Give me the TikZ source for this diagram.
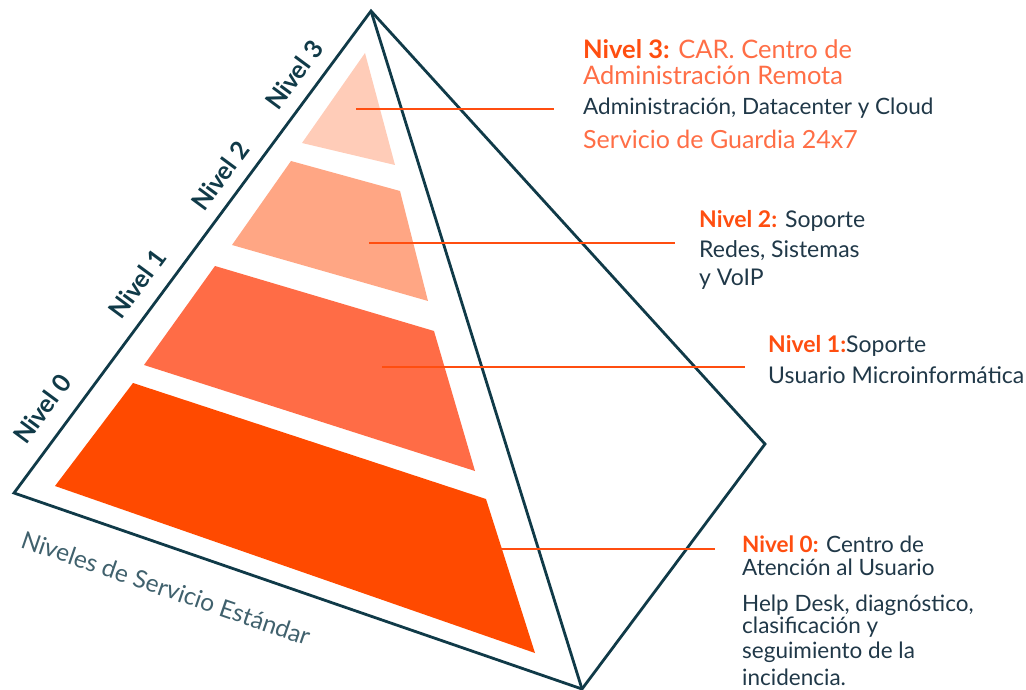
\documentclass[tikz,border=0pt]{standalone}
\usepackage{fontspec}
\setmainfont{Lato}
\usepackage{tikz}
\usetikzlibrary{positioning}
\usetikzlibrary{calc}
\definecolor{edge}{RGB}{16,58,72}
\definecolor{ink}{RGB}{32,56,72}
\definecolor{accent}{RGB}{255,78,16}
\definecolor{accent2}{RGB}{255,110,70}
\definecolor{lvl0}{RGB}{255,74,0}
\definecolor{lvl1}{RGB}{255,108,70}
\definecolor{lvl2}{RGB}{255,166,132}
\definecolor{lvl3}{RGB}{255,204,184}
\tikzstyle{side} = [draw=edge, line width=2.8pt, line join=miter]
\tikzstyle{leader} = [draw=accent, line width=2.6pt]
\tikzstyle{txt} = [anchor=base west, inner sep=0pt, text=ink, font=\fontsize{23}{26}\selectfont]
\tikzstyle{tag} = [inner sep=0pt, text=edge, rotate=53.5, font=\fontsize{25}{28}\selectfont\bfseries]

\begin{document}
\begin{tikzpicture}[x=1pt, y=-1pt]
	\useasboundingbox (0,0) rectangle (1026,690);

	% bands
	\fill[lvl0] (133,383) -- (486,499) -- (535,653) -- (55,486) -- cycle;
	\fill[lvl1] (215,266) -- (434,331) -- (475,471) -- (144,365) -- cycle;
	\fill[lvl2] (291,161) -- (400,191) -- (428,301) -- (232,245) -- cycle;
	\fill[lvl3] (365,53) -- (395,165) -- (302,143) -- cycle;

	% pyramid
	\coordinate (Apex) at (371,11);
	\coordinate (Left) at (14,493);
	\coordinate (Front) at (582,689);
	\coordinate (Right) at (765,444);
	\draw[side] (Apex) -- (Left) -- (Front) -- (Right) -- cycle;
	\draw[side] (Apex) -- (Front);

	% left tags
	\node[tag](Tag-0) at (42,409){Nivel 0};
	\node[tag](Tag-1) at (137,284){Nivel 1};
	\node[tag](Tag-2) at (220,176){Nivel 2};
	\node[tag](Tag-3) at (294,75){Nivel 3};
	\node[inner sep=0pt, text=edge!80, rotate=-19, font=\fontsize{24.5}{26}\selectfont](Title) at (166,588){Niveles de Servicio Estándar};

	% level 3
	\node[txt, font=\fontsize{25.5}{28}\selectfont, text=accent2](N3-a) at (583,59){\textbf{\color{accent}Nivel 3:} CAR. Centro de};
	\node[txt, font=\fontsize{25.5}{28}\selectfont, text=accent2](N3-b) at (583,85){Administración Remota};
	\node[txt, font=\fontsize{22.5}{26}\selectfont](N3-c) at (583,115){Administración, Datacenter y Cloud};
	\node[txt, font=\fontsize{25}{28}\selectfont, text=accent2](N3-d) at (583,149){Servicio de Guardia 24x7};

	% level 2
	\node[txt](N2-a) at (699,227){\textbf{\color{accent}Nivel 2:} Soporte};
	\node[txt](N2-b) at (699,257){Redes, Sistemas};
	\node[txt](N2-c) at (699,285){y VoIP};

	% level 1
	\node[txt](N1-a) at (768,352){\textbf{\color{accent}Nivel 1:}Soporte};
	\node[txt](N1-b) at (768,383){Usuario Microinformática};

	% level 0
	\node[txt, font=\fontsize{22.5}{26}\selectfont](N0-a) at (742,552){\textbf{\color{accent}Nivel 0:} Centro de};
	\node[txt, font=\fontsize{22.5}{26}\selectfont](N0-b) at (742,575){Atención al Usuario};
	\node[txt, font=\fontsize{22.5}{26}\selectfont](N0-c) at (742,611){Help Desk, diagnóstico,};
	\node[txt, font=\fontsize{22.5}{26}\selectfont](N0-d) at (742,633){clasificación y};
	\node[txt, font=\fontsize{22.5}{26}\selectfont](N0-e) at (742,658){seguimiento de la};
	\node[txt, font=\fontsize{22.5}{26}\selectfont](N0-f) at (742,685){incidencia.};

	% leaders
	\coordinate (L3) at (356,109);
	\coordinate (L2) at (369,243);
	\coordinate (L1) at (382,367);
	\coordinate (L0) at (500,549);
	\draw[leader] (L3) -- ([xshift=-29pt]L3 -| N3-a.west);
	\draw[leader] (L2) -- ([xshift=-24pt]L2 -| N2-a.west);
	\draw[leader] (L1) -- ([xshift=-23pt]L1 -| N1-a.west);
	\draw[leader] (L0) -- ([xshift=-27pt]L0 -| N0-a.west);
\end{tikzpicture}
\end{document}
